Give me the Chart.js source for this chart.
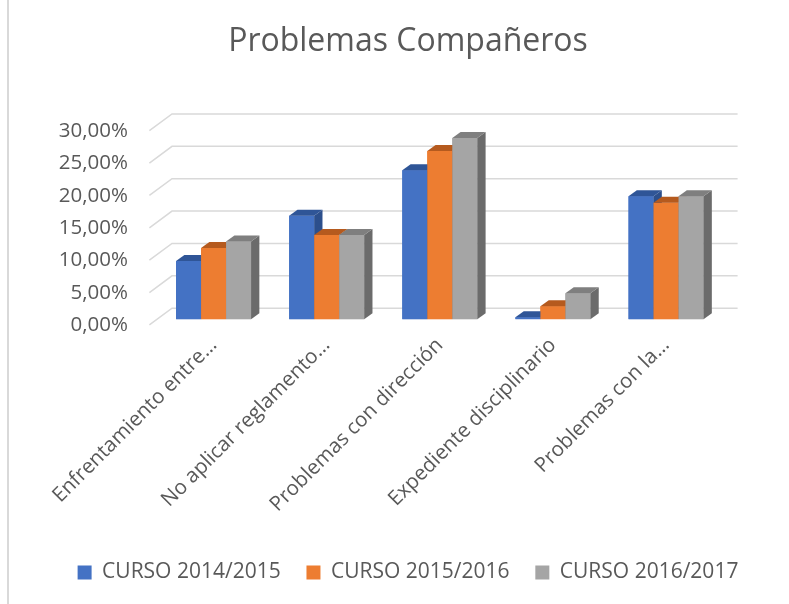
<!DOCTYPE html>
<html>
<head>
<meta charset="utf-8">
<title>Problemas Compañeros</title>
<script src="https://cdn.jsdelivr.net/npm/chart.js@4.4.0/dist/chart.umd.min.js"></script>
<style>
  html, body { margin: 0; padding: 0; background: #fff; }
  #wrap { position: relative; width: 789px; height: 604px; }
  #wrap:before { content: ""; position: absolute; left: 7px; top: 0; bottom: 0; width: 2px; background: #d9d9d9; }
  canvas { position: relative; }
</style>
</head>
<body>
<div id="wrap"><canvas id="bar-chart" width="789" height="604"></canvas></div>
<script>
/*--------------------------------
    Data
----------------------------------*/
const categories = [
  "Enfrentamiento entre…",
  "No aplicar reglamento…",
  "Problemas con dirección",
  "Expediente disciplinario",
  "Problemas con la…"
];
const seriesNames = ["CURSO 2014/2015", "CURSO 2015/2016", "CURSO 2016/2017"];
const curso1415 = [9, 16, 23, 0.3, 19];
const curso1516 = [11, 13, 26, 2, 18];
const curso1617 = [12, 13, 28, 4, 19];
const yTicks = [0, 5, 10, 15, 20, 25, 30];

/*--------------------------------
    Colours (front, top, side)
----------------------------------*/
const frontColors = ["#4472C4", "#ED7D31", "#A5A5A5"];
const topColors = ["#2F5597", "#B55A1E", "#7F7F7F"];
const sideColors = ["#2C4F8C", "#A4511A", "#6B6B6B"];

// fake depth of the 3d look, in pixels
const depth = { barX: 8.3, barY: 6, wallX: 15, wallY: 11, floorX: 7.6, floorY: 5.7 };

Chart.defaults.font.family = "'Open Sans', sans-serif";
Chart.defaults.color = "#595959";

/*--------------------------------
    Back wall grid (with the little floor diagonal)
----------------------------------*/
const wallGrid = {
  id: "wallGrid",
  beforeDatasetsDraw(chart) {
    const ctx = chart.ctx;
    const area = chart.chartArea;
    const y = chart.scales.y;
    ctx.save();
    ctx.strokeStyle = "#d9d9d9";
    ctx.lineWidth = 1.5;
    y.ticks.forEach(t => {
      const py = y.getPixelForValue(t.value);
      ctx.beginPath();
      ctx.moveTo(area.left - depth.floorX, py + depth.floorY);
      ctx.lineTo(area.left + depth.wallX, py - depth.wallY);
      ctx.lineTo(area.right + depth.wallX, py - depth.wallY);
      ctx.stroke();
    });
    ctx.restore();
  }
};

/*--------------------------------
    Boxes: redraw each front in series order, then its side and top
    (chart.js paints the last dataset first, which hides nothing here)
----------------------------------*/
const box3d = {
  id: "box3d",
  afterDatasetsDraw(chart) {
    const ctx = chart.ctx;
    ctx.save();
    chart.data.datasets.forEach((ds, i) => {
      const meta = chart.getDatasetMeta(i);
      meta.data.forEach(bar => {
        const l = bar.x - bar.width / 2;
        const r = bar.x + bar.width / 2;
        bar.draw(ctx);

        ctx.fillStyle = sideColors[i];
        ctx.beginPath();
        ctx.moveTo(r, bar.y);
        ctx.lineTo(r + depth.barX, bar.y - depth.barY);
        ctx.lineTo(r + depth.barX, bar.base - depth.barY);
        ctx.lineTo(r, bar.base);
        ctx.closePath();
        ctx.fill();

        ctx.fillStyle = topColors[i];
        ctx.beginPath();
        ctx.moveTo(l, bar.y);
        ctx.lineTo(l + depth.barX, bar.y - depth.barY);
        ctx.lineTo(r + depth.barX, bar.y - depth.barY);
        ctx.lineTo(r, bar.y);
        ctx.closePath();
        ctx.fill();
      });
    });
    ctx.restore();
  }
};

/*--------------------------------
    Chart
----------------------------------*/
const values = [curso1415, curso1516, curso1617];
const datasets = values.map((data, i) => ({
  label: seriesNames[i],
  data: data,
  backgroundColor: frontColors[i],
  borderWidth: 0,
  categoryPercentage: 0.663,
  barPercentage: 1
}));

new Chart(document.getElementById("bar-chart"), {
  type: "bar",
  data: { labels: categories, datasets: datasets },
  plugins: [wallGrid, box3d],
  options: {
    responsive: false,
    animation: false,
    events: [],
    layout: { padding: { left: 27, bottom: 11 } },
    plugins: {
      title: {
        display: true,
        text: "Problemas Compañeros",
        color: "#595959",
        font: { size: 32, weight: "normal", lineHeight: 1.2 },
        padding: { top: 23, bottom: 63.6 }
      },
      legend: {
        position: "bottom",
        labels: {
          boxWidth: 14,
          boxHeight: 14,
          padding: 25.8,
          color: "#595959",
          font: { size: 21 }
        }
      },
      tooltip: { enabled: false }
    },
    scales: {
      x: {
        grid: { display: false, drawTicks: false },
        border: { display: false },
        ticks: {
          autoSkip: false,
          minRotation: 45,
          maxRotation: 45,
          padding: 14,
          labelOffset: 0,
          color: "#595959",
          font: { size: 20.5 }
        },
        afterFit: s => { s.height = 217; }
      },
      y: {
        min: 0,
        max: 30,
        grid: { display: false, drawTicks: false },
        border: { display: false },
        afterBuildTicks: s => { s.ticks = yTicks.map(v => ({ value: v })); },
        ticks: {
          padding: 29,
          labelOffset: 6,
          color: "#595959",
          font: { size: 20.5 },
          callback: v => v.toFixed(2).replace(".", ",") + "%"
        },
        afterFit: s => { s.width = 130; }
      },
      // empty axis on the right, only to keep the plot area where excel put it
      spacer: {
        type: "linear",
        position: "right",
        grid: { display: false, drawTicks: false },
        border: { display: false },
        ticks: { display: false },
        afterFit: s => { s.width = 66.4; }
      }
    }
  }
});
</script>
</body>
</html>
